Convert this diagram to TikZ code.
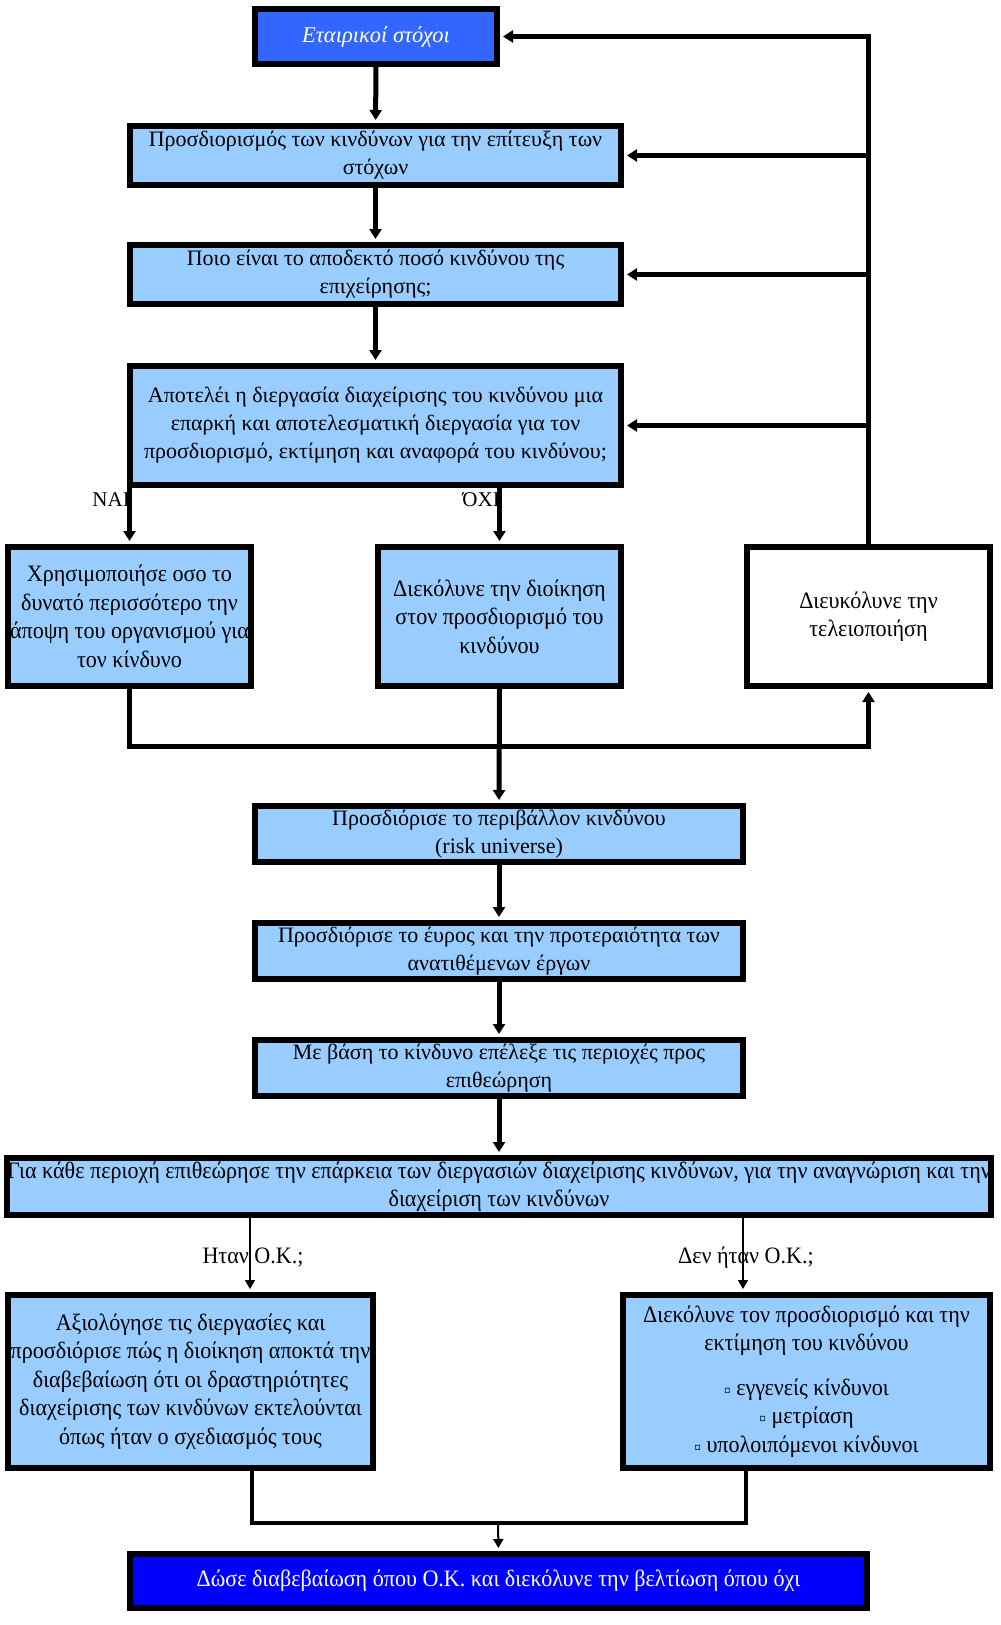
\documentclass[tikz,border=0pt]{standalone}
\usepackage{fontspec}
\setmainfont{Liberation Serif}
\newfontfamily\condfont{Liberation Serif}[FakeStretch=0.94]
\usetikzlibrary{arrows.meta}
\definecolor{lightblue}{RGB}{153,204,255}
\definecolor{midblue}{RGB}{51,102,255}
\definecolor{deepblue}{RGB}{0,0,255}
\begin{document}
\begin{tikzpicture}[x=1pt,y=-1pt,
  box/.style={draw=black, line width=6pt, fill=lightblue, align=center, inner sep=1pt,
    font=\fontsize{22}{28}\selectfont},
  cbox/.style={box, font=\condfont\fontsize{23.5}{28.5}\selectfont},
  lbl/.style={inner sep=0pt, font=\fontsize{21}{24}\selectfont},
  clbl/.style={inner sep=0pt, font=\condfont\fontsize{23.5}{24}\selectfont},
  conn/.style={line width=5pt, -{Triangle[length=10pt,width=12pt]}, shorten >=3pt},
  thinconn/.style={line width=1.5pt, -{Triangle[length=9pt,width=10pt]}, shorten >=3pt},
  medline/.style={line width=4pt},
]
\useasboundingbox (0,0) rectangle (1001,1625);
\fill[white] (0,0) rectangle (1001,1625);

% nodes
\node[box, fill=midblue, text=white, font=\itshape\fontsize{22.5}{28}\selectfont,
  minimum width=242pt, minimum height=55pt] (b1) at (376,36.5) {Εταιρικοί στόχοι};
\node[box, minimum width=491pt, minimum height=59pt] (b2) at (375.5,155.5)
  {Προσδιορισμός των κινδύνων για την επίτευξη των\\ στόχων};
\node[box, minimum width=491pt, minimum height=59pt] (b3) at (375.5,274.5)
  {Ποιο είναι το αποδεκτό ποσό κινδύνου της\\ επιχείρησης;};
\node[box, minimum width=491pt, minimum height=119pt] (b4) at (375.5,425.5)
  {Αποτελέι η διεργασία διαχείρισης του κινδύνου μια\\ επαρκή και αποτελεσματική διεργασία για τον\\ προσδιορισμό, εκτίμηση και αναφορά του κινδύνου;};
\node[cbox, minimum width=243pt, minimum height=139pt] (b5) at (129.5,616.5)
  {Χρησιμοποιήσε οσο το\\ δυνατό περισσότερο την\\ άποψη του οργανισμού για\\ τον κίνδυνο};
\node[cbox, minimum width=243pt, minimum height=139pt] (b6) at (499.5,616.5)
  {Διεκόλυνε την διοίκηση\\ στον προσδιορισμό του\\ κινδύνου};
\node[cbox, fill=white, minimum width=243pt, minimum height=139pt] (b7) at (868.5,616.5)
  {Διευκόλυνε την\\ τελειοποιήση};
\node[box, minimum width=488pt, minimum height=56pt] (b8) at (499,834)
  {Προσδιόρισε το περιβάλλον κινδύνου\\ (risk universe)};
\node[box, minimum width=488pt, minimum height=56pt] (b9) at (499,951)
  {Προσδιόρισε το έυρος και την προτεραιότητα των\\ ανατιθέμενων έργων};
\node[box, minimum width=488pt, minimum height=56pt] (b10) at (499,1068)
  {Με βάση το κίνδυνο επέλεξε τις περιοχές προς\\ επιθεώρηση};
\node[cbox, inner sep=0pt, minimum width=982pt, minimum height=57pt] (b11) at (499,1186.5)
  {Για κάθε περιοχή επιθεώρησε την επάρκεια των διεργασιών διαχείρισης κινδύνων, για την αναγνώριση και την\\ διαχείριση των κινδύνων};
\node[cbox, minimum width=365pt, minimum height=173pt] (b12) at (190.5,1381.5)
  {Αξιολόγησε τις διεργασίες και\\ προσδιόρισε πώς η διοίκηση αποκτά την\\ διαβεβαίωση ότι οι δραστηριότητες\\ διαχείρισης των κινδύνων εκτελούνται\\ όπως ήταν ο σχεδιασμός τους};
\node[cbox, minimum width=367pt, minimum height=173pt] (b13) at (806.5,1381.5)
  {Διεκόλυνε τον προσδιορισμό και την\\ εκτίμηση του κινδύνου\\[16pt]
   {\fontsize{14}{14}\selectfont ¤} εγγενείς κίνδυνοι\\ {\fontsize{14}{14}\selectfont ¤} μετρίαση\\ {\fontsize{14}{14}\selectfont ¤} υπολοιπόμενοι κίνδυνοι};
\node[cbox, fill=deepblue, text=white, minimum width=737pt, minimum height=54pt] (b14) at (498.5,1581)
  {Δώσε διαβεβαίωση όπου Ο.Κ. και διεκόλυνε την βελτίωση όπου όχι};

% labels
\node[lbl, anchor=east] (lnai) at (130,500) {ΝΑΙ};
\node[lbl, anchor=east] (loxi) at (500,500) {ΌΧΙ};
\node[clbl] (lok) at (253,1258) {Ηταν Ο.Κ.;};
\node[clbl] (lnok) at (746,1258) {Δεν ήταν Ο.Κ.;};

% coordinates
\coordinate (p12) at (250,1292);
\coordinate (p13) at (743,1292);
\coordinate (q12) at (252,1471);
\coordinate (q13) at (746,1471);
\coordinate (mid) at (498,1523);
\coordinate (row) at (498,746);

% connectors
\draw[conn] (b1) -- (b2);
\draw[conn] (b2) -- (b3);
\draw[conn] (b3) -- (b4);
\draw[conn] (b5.north |- b4.south) -- (b5.north);
\draw[conn] (b6.north |- b4.south) -- (b6.north);
\draw[conn, line join=miter] (b7.north) -- (b7.north |- b1.east) -- (b1.east);
\draw[conn] (b7.north |- b2.east) -- (b2.east);
\draw[conn] (b7.north |- b3.east) -- (b3.east);
\draw[conn] (b7.north |- b4.east) -- (b4.east);
\draw[conn, line join=miter] (b5.south) -- (b5.south |- row) -| (b7.south);
\draw[conn] (b6.south) -- (b8.north);
\draw[conn] (b8) -- (b9);
\draw[conn] (b9) -- (b10);
\draw[conn] (b10) -- (b11);
\draw[thinconn] (p12 |- b11.south) -- (p12);
\draw[thinconn] (p13 |- b11.south) -- (p13);
\draw[medline, line join=miter] (q12 |- b12.south) -- (q12 |- mid) -- (q13 |- mid) -- (q13 |- b13.south);
\draw[thinconn, line width=2pt] (mid) -- (b14.north);
\end{tikzpicture}
\end{document}
